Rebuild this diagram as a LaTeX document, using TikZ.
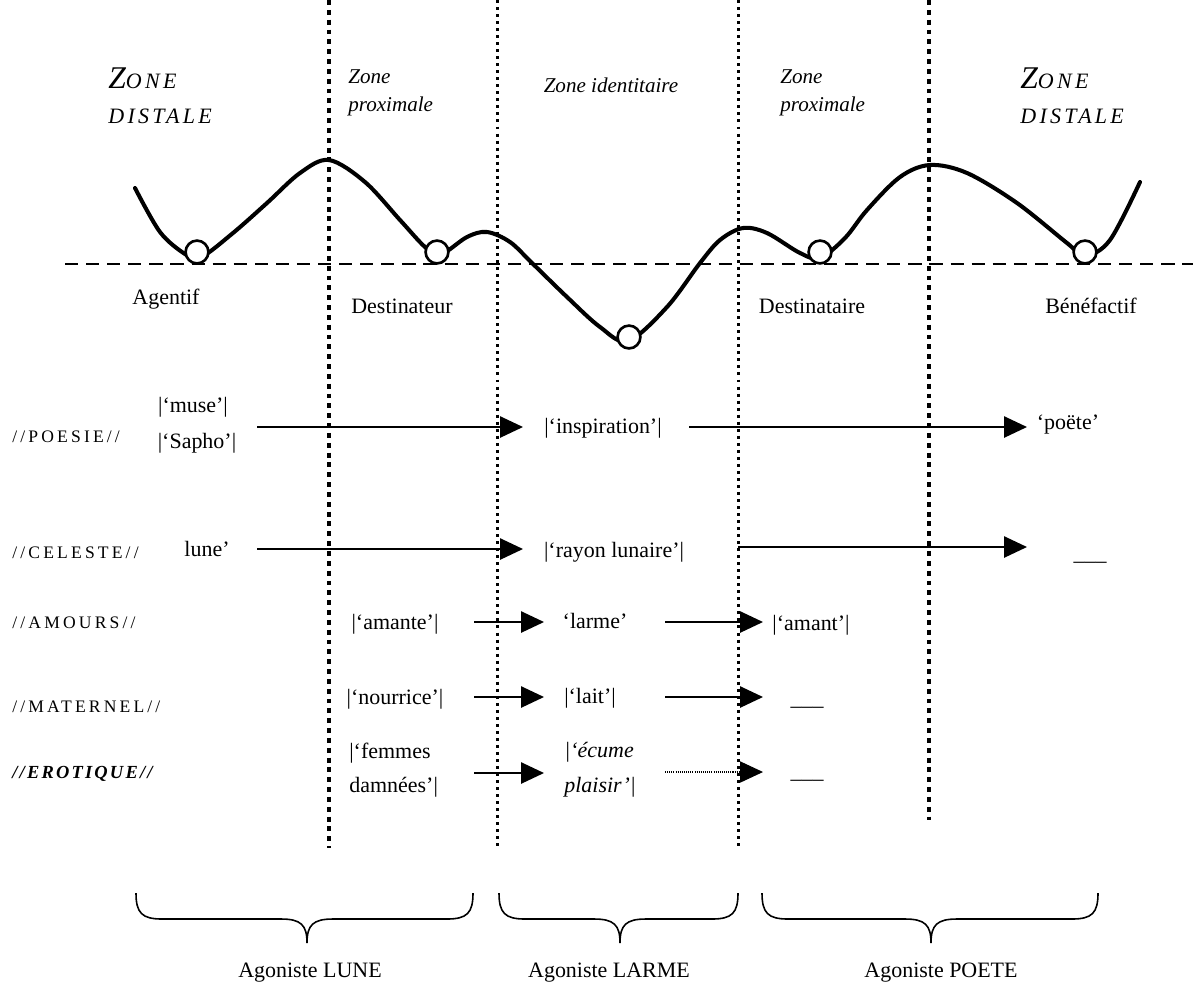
\documentclass[tikz,border=0pt]{standalone}
\usepackage{fontspec}
\setmainfont{Liberation Serif}
\usetikzlibrary{arrows.meta}
\newcommand\bodyf{\fontsize{12.5}{15}\selectfont}
\newcommand\zonef{\itshape\fontsize{12}{14}\selectfont}
\newcommand\scf{\fontsize{10}{12}\selectfont\addfontfeature{LetterSpace=18}}
\newcommand\zbig{\itshape\fontsize{18}{20}\selectfont}
\newcommand\zsmall{\itshape\fontsize{12.5}{15}\selectfont\addfontfeature{LetterSpace=15}}
\newcommand\agbrace[3]{%
  \draw[bracestyle] (#1,893) .. controls (#1,913) and (#1+6,919) .. (#1+26,919)
    -- (#2-26,919) .. controls (#2-6,919) and (#2,925) .. (#2,943)
    .. controls (#2,925) and (#2+6,919) .. (#2+26,919)
    -- (#3-26,919) .. controls (#3-6,919) and (#3,913) .. (#3,893);}
\tikzset{
  curvestyle/.style={line width=2.3pt, line join=round, line cap=round},
  ball/.style={circle, draw, line width=1.5pt, fill=white, minimum size=13pt, inner sep=0pt},
  thickdot/.style={line width=2.8pt, dash pattern=on 2.8pt off 2.8pt},
  thindot/.style={line width=1.7pt, dash pattern=on 1.7pt off 2.3pt},
  baseline dash/.style={line width=1.1pt, dash pattern=on 7.5pt off 4.5pt},
  arr/.style={line width=1.1pt, -{Triangle[length=13pt,width=12pt]}},
  dotarr/.style={line width=0.6pt, dash pattern=on 0.6pt off 0.6pt, -{Triangle[length=13pt,width=12pt]}},
  txt/.style={inner sep=0pt, font=\bodyf, anchor=base},
  txtw/.style={inner sep=0pt, font=\bodyf, anchor=base west},
  zone/.style={inner sep=0pt, font=\zonef, anchor=base west},
  rowlab/.style={inner sep=0pt, anchor=base west},
  bracestyle/.style={line width=0.9pt}
}
\begin{document}
\begin{tikzpicture}[x=0.02cm,y=-0.02cm]
\useasboundingbox (0,0) rectangle (1193,985);

% vertical separators
\coordinate (v1t) at (329,0);   \coordinate (v1b) at (329,848);
\coordinate (v2t) at (497,0);   \coordinate (v2b) at (497,848);
\coordinate (v3t) at (738,0);   \coordinate (v3b) at (738,848);
\coordinate (v4t) at (929,0);   \coordinate (v4b) at (929,820);
\draw[thickdot] (v1t) -- (v1b);
\draw[thindot]  (v2t) -- (v2b);
\draw[thindot]  (v3t) -- (v3b);
\draw[thickdot] (v4t) -- (v4b);

% baseline
\coordinate (hl) at (65,264); \coordinate (hr) at (1193,264);
\draw[baseline dash] (hl) -- (hr);

% energy curve
\draw[curvestyle] plot[smooth, tension=0.55] coordinates {
 (135,188) (160,232) (185,254) (200,258) (233,233) (267,203) (300,173) (329,160)
 (365,182) (400,220) (425,247) (440,255) (467,237) (487,232) (510,242) (532,263)
 (567,297) (600,327) (628,341) (667,307) (700,263) (720,240) (743,228) (767,233)
 (800,253) (820,258) (845,238) (867,210) (900,177) (930,165) (967,173) (1017,203)
 (1067,243) (1085,256) (1110,240) (1140,182)};
\node[ball] (b1) at (197,252) {};
\node[ball] (b2) at (437,252) {};
\node[ball] (b3) at (629,337) {};
\node[ball] (b4) at (820,252) {};
\node[ball] (b5) at (1085,252) {};

% zone headings
\node[rowlab] (zdl1) at (108,88) {\zbig Z\zsmall ONE};
\node[rowlab] (zdl2) at (108,123) {\zsmall DISTALE};
\node[rowlab] (zdr1) at (1020,88) {\zbig Z\zsmall ONE};
\node[rowlab] (zdr2) at (1020,123) {\zsmall DISTALE};
\node[zone] (zpl1) at (348,83) {Zone};
\node[zone] (zpl2) at (348,111) {proximale};
\node[zone] (zpr1) at (780,83) {Zone};
\node[zone] (zpr2) at (780,111) {proximale};
\node[zone, anchor=base] (zid) at (611,92) {Zone identitaire};

% case roles
\node[txt] (agentif) at (166,304) {Agentif};
\node[txt] (destr) at (402,313) {Destinateur};
\node[txt] (desta) at (812,313) {Destinataire};
\node[txt] (benef) at (1091,313) {Bénéfactif};

% row labels
\node[rowlab] (rpoesie) at (12,442) {\scf //POESIE//};
\node[rowlab] (rceleste) at (12,558) {\scf //CELESTE//};
\node[rowlab] (ramours) at (12,628) {\scf //AMOURS//};
\node[rowlab] (rmaternel) at (12,712) {\scf //MATERNEL//};
\node[rowlab] (rerotique) at (12,778) {\bfseries\itshape\fontsize{10.5}{12}\selectfont\addfontfeature{LetterSpace=12}//EROTIQUE//};

% row 1
\node[txt] (muse) at (193,412) {|‘muse’|};
\node[txt] (sapho) at (197,448) {|‘Sapho’|};
\node[txt] (inspi) at (603,433) {|‘inspiration’|};
\node[txt] (poete) at (1068,429) {‘poëte’};
\coordinate (a1s) at (257,427); \coordinate (a1e) at (523,427);
\coordinate (a2s) at (689,427); \coordinate (a2e) at (1027,427);
\draw[arr] (a1s) -- (a1e);
\draw[arr] (a2s) -- (a2e);

% row 2
\node[txt] (lune) at (207,556) {lune’};
\node[txt] (rayon) at (614,557) {|‘rayon lunaire’|};
\node[txt] (void2) at (1090,560) {\_\_\_};
\coordinate (a3s) at (257,549); \coordinate (a3e) at (523,549);
\coordinate (a4s) at (738,547); \coordinate (a4e) at (1027,547);
\draw[arr] (a3s) -- (a3e);
\draw[arr] (a4s) -- (a4e);

% row 3
\node[txt] (amante) at (395,629) {|‘amante’|};
\node[txt] (larme) at (595,628) {‘larme’};
\node[txt] (amant) at (811,630) {|‘amant’|};
\coordinate (a5s) at (474,622); \coordinate (a5e) at (544,622);
\coordinate (a6s) at (665,622); \coordinate (a6e) at (763,622);
\draw[arr] (a5s) -- (a5e);
\draw[arr] (a6s) -- (a6e);

% row 4
\node[txt] (nourrice) at (395,704) {|‘nourrice’|};
\node[txt] (lait) at (590,703) {|‘lait’|};
\node[txt] (void4) at (807,705) {\_\_\_};
\coordinate (a7s) at (474,697); \coordinate (a7e) at (544,697);
\coordinate (a8s) at (665,697); \coordinate (a8e) at (763,697);
\draw[arr] (a7s) -- (a7e);
\draw[arr] (a8s) -- (a8e);

% row 5
\node[txtw] (femmes) at (349,758) {|‘femmes};
\node[txtw] (damnees) at (349,792) {damnées’|};
\node[txtw, font=\bodyf\itshape] (ecume) at (564,757) {|‘écume};
\node[txtw, font=\bodyf\itshape] (plaisir) at (564,792) {plaisir’|};
\node[txt] (void5) at (807,778) {\_\_\_};
\coordinate (a9s) at (474,773); \coordinate (a9e) at (544,773);
\coordinate (a10s) at (665,772); \coordinate (a10e) at (763,772);
\draw[arr] (a9s) -- (a9e);
\draw[dotarr] (a10s) -- (a10e);

% braces
\agbrace{136}{307}{473}
\agbrace{499}{620}{738}
\agbrace{762}{931}{1098}
\node[txt] (aglune) at (310,977) {Agoniste LUNE};
\node[txt] (aglarme) at (609,977) {Agoniste LARME};
\node[txt] (agpoete) at (941,977) {Agoniste POETE};
\end{tikzpicture}
\end{document}
